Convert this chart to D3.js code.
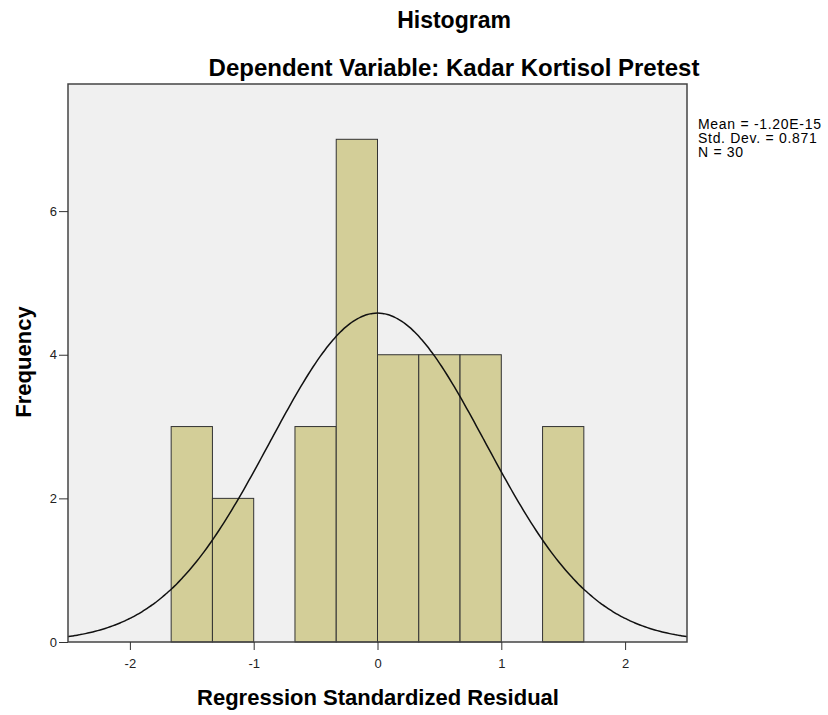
<!DOCTYPE html>
<html lang="en">
<head>
  <meta charset="UTF-8">
  <title>Histogram</title>
  <script src="https://d3js.org/d3.v7.min.js"></script>
  <style>
    body { margin: 0; background: #fff; }
    text { font-family: Arial, "Liberation Sans", sans-serif; fill: #000; }
    .axis text { font-size: 13px; fill: #222; }
    .axis line, .axis path { stroke: #333; }
  </style>
</head>
<body>
  <svg class="graph" width="828" height="715"></svg>
  <script>
    // bins of the standardized residual (width 1/3) and their counts
    const binStarts = [-5/3, -4/3, -1, -2/3, -1/3, 0, 1/3, 2/3, 1, 4/3];
    const binEnds   = [-4/3, -1, -2/3, -1/3, 0, 1/3, 2/3, 1, 4/3, 5/3];
    const counts    = [3, 2, 0, 3, 7, 4, 4, 4, 0, 3];
    const xTicks = [-2, -1, 0, 1, 2];
    const yTicks = [0, 2, 4, 6];
    const statLines = ['Mean = -1.20E-15', 'Std. Dev. = 0.871', 'N = 30'];
    const statMean = [0];
    const statSd = [0.871];
    const statN = [30];

    const svg = d3.select('svg.graph');
    const margins = { top: 84, left: 68, right: 141, bottom: 73 };
    const chartWidth = 828 - margins.left - margins.right;
    const chartHeight = 715 - margins.top - margins.bottom;

    const x = d3.scaleLinear().domain([-2.5, 2.5]).range([0, chartWidth]);
    const y = d3.scaleLinear().domain([0, 7.77]).range([chartHeight, 0]);

    // titles
    svg.append('text').attr('x', 454).attr('y', 28).attr('text-anchor', 'middle')
      .style('font-size', '23px').style('font-weight', 'bold').text('Histogram');
    svg.append('text').attr('x', 454).attr('y', 76).attr('text-anchor', 'middle')
      .style('font-size', '24px').style('font-weight', 'bold')
      .text('Dependent Variable: Kadar Kortisol Pretest');

    const chart = svg.append('g')
      .attr('transform', `translate(${margins.left},${margins.top})`);

    chart.append('rect')
      .attr('width', chartWidth).attr('height', chartHeight)
      .attr('fill', '#f0f0f0');

    // bars
    chart.selectAll('rect.bar')
      .data(counts.map((c, i) => ({ c, a: binStarts[i], b: binEnds[i] })).filter(d => d.c > 0))
      .join('rect')
      .attr('class', 'bar')
      .attr('x', d => x(d.a))
      .attr('y', d => y(d.c))
      .attr('width', d => x(d.b) - x(d.a))
      .attr('height', d => y(0) - y(d.c))
      .attr('fill', '#d3ce98')
      .attr('stroke', '#333')
      .attr('stroke-width', 1);

    // normal curve from mean, sd, N
    const binW = binEnds[0] - binStarts[0];
    const curveX = d3.range(-2.5, 2.5001, 0.02);
    const pdf = v => statN[0] * binW * Math.exp(-0.5 * ((v - statMean[0]) / statSd[0]) ** 2) / (statSd[0] * Math.sqrt(2 * Math.PI));
    chart.append('path')
      .datum(curveX)
      .attr('fill', 'none')
      .attr('stroke', '#111')
      .attr('stroke-width', 1.5)
      .attr('d', d3.line().x(d => x(d)).y(d => y(pdf(d))).curve(d3.curveBasis));

    // frame
    chart.append('rect')
      .attr('width', chartWidth).attr('height', chartHeight)
      .attr('fill', 'none').attr('stroke', '#444').attr('stroke-width', 1.5);

    // axes
    chart.append('g')
      .attr('class', 'axis')
      .attr('transform', `translate(0,${chartHeight})`)
      .call(d3.axisBottom(x).tickValues(xTicks).tickSize(8).tickPadding(9).tickFormat(d => String(d)))
      .call(g => g.select('.domain').remove());
    chart.append('g')
      .attr('class', 'axis')
      .call(d3.axisLeft(y).tickValues(yTicks).tickSize(9).tickPadding(2).tickFormat(d3.format('d')))
      .call(g => g.select('.domain').remove());

    // axis titles
    svg.append('text').attr('x', 378).attr('y', 705).attr('text-anchor', 'middle')
      .style('font-size', '22px').style('font-weight', 'bold')
      .text('Regression Standardized Residual');
    svg.append('text')
      .attr('transform', 'translate(31,362) rotate(-90)')
      .attr('text-anchor', 'middle')
      .style('font-size', '22px').style('font-weight', 'bold')
      .text('Frequency');

    // statistics
    svg.append('g').selectAll('text')
      .data(statLines)
      .join('text')
      .attr('x', 698)
      .attr('y', (d, i) => 129 + i * 14)
      .style('font-size', '14px')
      .style('letter-spacing', '0.7px')
      .text(d => d);
  </script>
</body>
</html>
